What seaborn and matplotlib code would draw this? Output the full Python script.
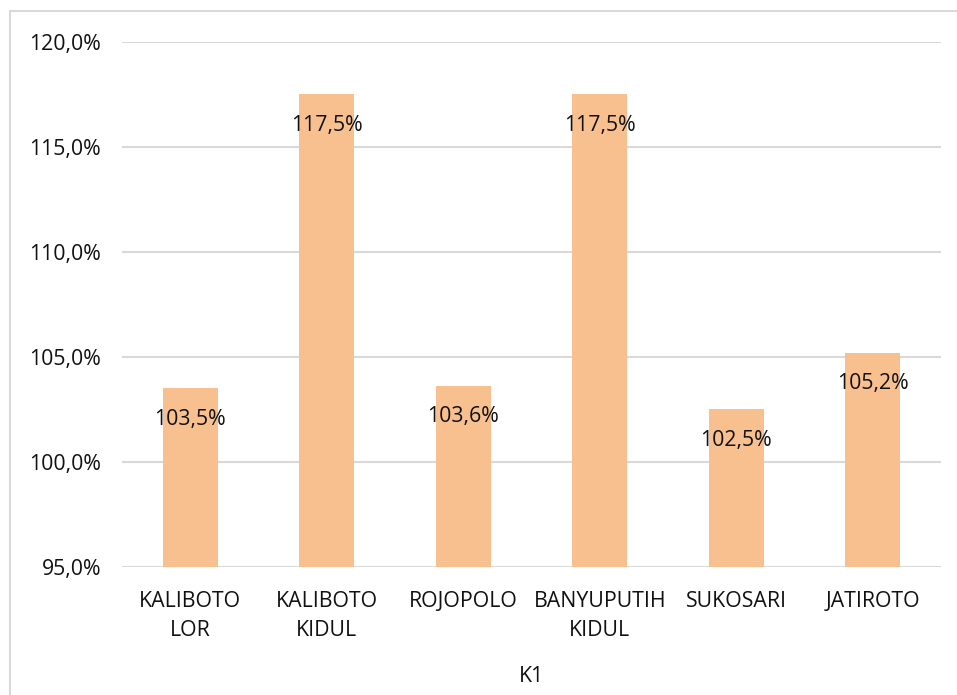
import matplotlib
matplotlib.use("Agg")
import matplotlib.pyplot as plt
import seaborn as sns
import pandas as pd
from matplotlib.patches import Rectangle
from matplotlib.ticker import FuncFormatter

# data
kategori = ["KALIBOTO\nLOR", "KALIBOTO\nKIDUL", "ROJOPOLO", "BANYUPUTIH\nKIDUL", "SUKOSARI", "JATIROTO"]
nilai = [103.5, 117.5, 103.6, 117.5, 102.5, 105.2]
yticks = [95, 100, 105, 110, 115, 120]

df = pd.DataFrame({"desa": kategori, "persen": nilai})

sns.set_style("white")
plt.rcParams["font.family"] = ["Open Sans", "DejaVu Sans"]
fs = 15.3

fig = plt.figure(figsize=(9.57, 6.95), dpi=100)
ax = fig.add_axes([0.1275, 0.1842, 0.9833 - 0.1275, 0.9396 - 0.1842])

sns.barplot(data=df, x="desa", y="persen", color="#F9C08F", width=0.4,
            saturation=1, ax=ax, zorder=3, edgecolor="none")

ax.set_ylim(95, 120)
ax.set_yticks(yticks)
ax.yaxis.set_major_formatter(FuncFormatter(lambda v, p: f"{v:.1f}%".replace(".", ",")))
ax.grid(axis="y", color="#D9D9D9", linewidth=1.5, zorder=0)
ax.set_axisbelow(True)
for s in ax.spines.values():
    s.set_visible(False)

ax.tick_params(axis="y", length=0, pad=15, labelsize=fs, labelcolor="#111111")
ax.tick_params(axis="x", length=0, pad=17, labelsize=fs, labelcolor="#111111")
for lbl in ax.get_xticklabels():
    lbl.set_linespacing(1.5)
ax.set_ylabel("")
ax.set_xlabel("K1", fontsize=fs, color="#111111", labelpad=18)

# label nilai di dalam batang
for i, v in enumerate(nilai):
    ax.annotate(f"{v:.1f}%".replace(".", ","), xy=(i, v), xytext=(0, -22),
                textcoords="offset points", ha="center", va="center",
                fontsize=fs, color="#111111", zorder=4)

# bingkai chart
fig.patches.append(Rectangle((10 / 957, -0.05), 1.2, 1 - 11 / 695 + 0.05,
                             transform=fig.transFigure, fill=False,
                             edgecolor="#D9D9D9", linewidth=1.5))

fig.savefig("out.png", dpi=100)
